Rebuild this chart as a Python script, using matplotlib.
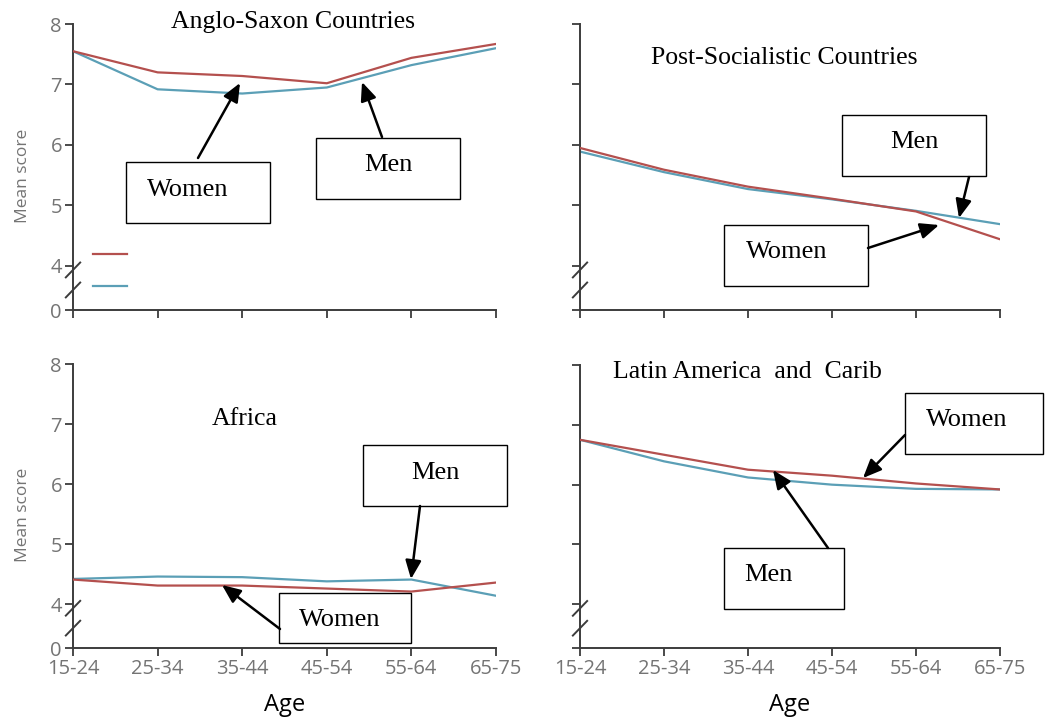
import matplotlib
matplotlib.use("Agg")
import matplotlib.pyplot as plt
from matplotlib.patches import Rectangle, FancyArrowPatch

# data
ages = ["15-24", "25-34", "35-44", "45-54", "55-64", "65-75"]

anglo_women = [7.55, 7.20, 7.14, 7.02, 7.44, 7.67]
anglo_men = [7.55, 6.92, 6.85, 6.95, 7.32, 7.60]
post_women = [5.95, 5.59, 5.31, 5.11, 4.90, 4.44]
post_men = [5.89, 5.55, 5.27, 5.10, 4.91, 4.69]
africa_women = [4.41, 4.31, 4.31, 4.26, 4.21, 4.36]
africa_men = [4.42, 4.46, 4.45, 4.38, 4.41, 4.14]
latam_women = [6.75, 6.50, 6.25, 6.15, 6.02, 5.92]
latam_men = [6.75, 6.39, 6.12, 6.00, 5.93, 5.92]

titles = ["Anglo-Saxon Countries", "Post-Socialistic Countries",
          "Africa", "Latin America  and  Carib"]
ytick_vals = [4, 5, 6, 7, 8]
ytick_labels = ["4", "5", "6", "7", "8"]

W, H = 1052, 724
RED = "#b4504e"
BLUE = "#5b9fb6"
AXC = "#3c3c3c"
GREY = "#747474"
BREAK = 3.27   # where the "0" sits on the broken axis

fig = plt.figure(figsize=(W / 100, H / 100), dpi=100)

def px_axes(x0, y_top, x1, y_bot):
    return fig.add_axes([x0 / W, 1 - y_bot / H, (x1 - x0) / W, (y_bot - y_top) / H])

# panel frames in pixels: left, top(8), right, bottom(0)
frames = [(73, 24, 496, 310), (580, 24, 1000, 310),
          (73, 364, 496, 648), (580, 365, 1000, 648)]
series = [(anglo_women, anglo_men), (post_women, post_men),
          (africa_women, africa_men), (latam_women, latam_men)]

axes = []
for i, (fr, (w, m)) in enumerate(zip(frames, series)):
    ax = px_axes(*fr)
    x = list(range(len(ages)))
    lw_line, = ax.plot(x, w, color=RED, lw=1.6, zorder=3)
    lm_line, = ax.plot(x, m, color=BLUE, lw=1.6, zorder=2)
    ax.set_xlim(0, len(ages) - 1)
    ax.set_ylim(BREAK, 8)
    for s in ["top", "right"]:
        ax.spines[s].set_visible(False)
    for s in ["left", "bottom"]:
        ax.spines[s].set_color(AXC)
        ax.spines[s].set_linewidth(1.4)
    ax.set_yticks([BREAK] + ytick_vals)
    ax.set_xticks(x)
    ax.tick_params(length=6, width=1.3, color=AXC, labelcolor=GREY,
                   labelsize=14.5, pad=2)
    if i % 2 == 0:
        ax.set_yticklabels(["0"] + ytick_labels, family="Open Sans")
        ax.set_ylabel("Mean score", family="Open Sans", fontsize=12.5,
                      color=GREY)
        ax.yaxis.set_label_coords(-0.10, 0.47)
    else:
        ax.set_yticklabels([])
    if i >= 2:
        ax.set_xticklabels(ages, family="Open Sans")
        ax.set_xlabel("Age", family="Open Sans", fontsize=17,
                      color="black", labelpad=10)
    else:
        ax.set_xticklabels([])
    # axis break marks
    for yb in (0.14, 0.07):
        ax.plot([-0.017, 0.017], [yb - 0.026, yb + 0.026], transform=ax.transAxes,
                color=AXC, lw=1.4, clip_on=False)
    axes.append((ax, lw_line, lm_line))

# leftover legend samples in the first panel
ax0, h_w, h_m = axes[0]
ax0.legend([h_w, h_m], ["", ""], frameon=False, loc="center left",
           bbox_to_anchor=(0.034, 0.136), borderaxespad=0, handlelength=2.45,
           labelspacing=1.3, fontsize=10)

# panel titles (pixel positions)
title_pos = [(293, 22), (784, 58), (245, 419), (747, 372)]
for t, (tx, ty) in zip(titles, title_pos):
    fig.text(tx / W, 1 - ty / H, t, ha="center", va="center",
             family="Liberation Serif", fontsize=18.5)

# callout boxes: label, box (x0, y0, x1, y1), text pos, arrow from, arrow to
callouts = [
    ("Women", (126, 162, 270, 223), (188, 190), (198, 158), (240, 83)),
    ("Men", (316, 138, 460, 199), (388, 165), (382, 137), (362, 82)),
    ("Men", (842, 115, 986, 176), (914, 142), (969, 177), (959, 218)),
    ("Women", (724, 225, 868, 286), (787, 252), (868, 248), (939, 225)),
    ("Men", (363, 445, 507, 506), (435, 473), (420, 506), (411, 579)),
    ("Women", (279, 593, 411, 643), (340, 620), (280, 629), (222, 585)),
    ("Women", (905, 393, 1043, 454), (967, 420), (905, 435), (863, 478)),
    ("Men", (724, 548, 844, 609), (768, 575), (828, 548), (773, 470)),
]
for lab, (x0, y0, x1, y1), (tx, ty), (ax_, ay_), (bx, by) in callouts:
    fig.add_artist(Rectangle((x0 / W, 1 - y1 / H), (x1 - x0) / W, (y1 - y0) / H,
                             transform=fig.transFigure, fc="white", ec="black",
                             lw=1.0, zorder=5))
    fig.text(tx / W, 1 - ty / H, lab, ha="center", va="center",
             family="Liberation Serif", fontsize=19, zorder=6)
    fig.add_artist(FancyArrowPatch((ax_ / W, 1 - ay_ / H), (bx / W, 1 - by / H),
                                   transform=fig.transFigure,
                                   arrowstyle="-|>,head_length=0.7,head_width=0.3",
                                   mutation_scale=16, lw=1.8, color="black",
                                   shrinkA=0, shrinkB=0, zorder=7))

fig.savefig("out.png", dpi=100)
